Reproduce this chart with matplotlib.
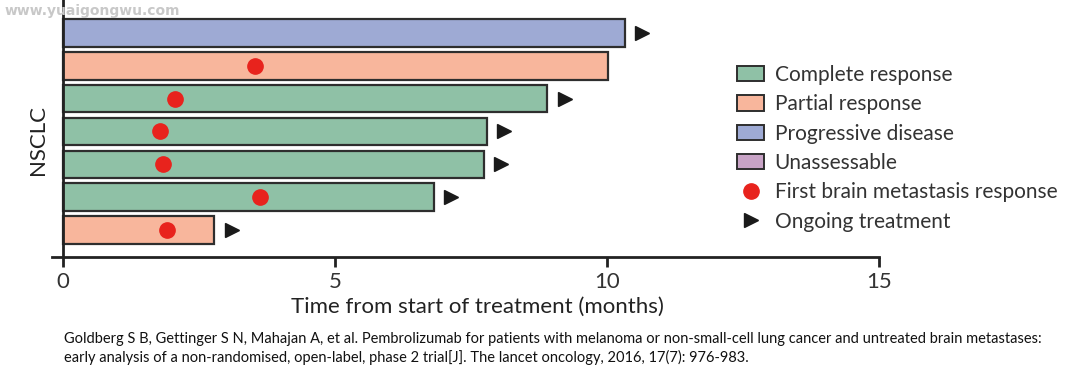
import matplotlib
matplotlib.use("Agg")
import matplotlib.pyplot as plt
from matplotlib.patches import Patch
from matplotlib.lines import Line2D

# ---- data (top to bottom) ----
responses = ["Progressive disease", "Partial response", "Complete response",
             "Complete response", "Complete response", "Complete response",
             "Partial response"]
durations = [10.33, 10.02, 8.90, 7.79, 7.74, 6.82, 2.78]
first_response = [None, 3.53, 2.06, 1.78, 1.84, 3.62, 1.91]
ongoing = [True, False, True, True, True, True, True]
xticks = [0, 5, 10, 15]

colors = {"Complete response": "#8fc1a6",
          "Partial response": "#f8b69c",
          "Progressive disease": "#9eaad4",
          "Unassessable": "#c8a3c6"}
edge = "#2e2e2e"
red = "#e8231d"

font = ["Lato", "DejaVu Sans"]
plt.rcParams["font.family"] = font

fig = plt.figure(figsize=(10.8, 3.76), dpi=100)
ax = fig.add_axes([52/1080, 1-257/376, (879-52)/1080, 257/376])

n = len(durations)
ys = list(range(n - 1, -1, -1))
for y, d, r, fr, og in zip(ys, durations, responses, first_response, ongoing):
    ax.barh(y, d, height=0.84, color=colors[r], edgecolor=edge, linewidth=1.6, zorder=2)
    if fr is not None:
        ax.plot(fr, y, "o", color=red, markersize=11, zorder=3)
    if og:
        ax.plot(d + 0.32, y, ">", color="#1a1a1a", markersize=10, zorder=3)

ax.set_xlim(-0.2, 15)
ax.set_ylim(-0.82, n - 0.0)
ax.spines["left"].set_position(("data", 0))
ax.spines["top"].set_visible(False)
ax.spines["right"].set_visible(False)
for s in ["left", "bottom"]:
    ax.spines[s].set_linewidth(2)
    ax.spines[s].set_color("#222222")
ax.set_xticks(xticks)
ax.set_xticklabels([str(t) for t in xticks], fontsize=16, color="#333333")
ax.tick_params(axis="x", length=7, width=2, color="#222222", pad=4)
ax.set_yticks([])
ax.set_xlabel("Time from start of treatment (months)", fontsize=16, color="#222222")
ax.xaxis.set_label_coords(0.514, -0.155)
fig.text(38/1080, 1-140/376, "NSCLC", rotation=90, fontsize=16, color="#222222",
         ha="center", va="center")

handles = [Patch(facecolor=colors[k], edgecolor=edge, linewidth=1.4, label=k)
           for k in ["Complete response", "Partial response", "Progressive disease", "Unassessable"]]
handles.append(Line2D([], [], marker="o", color=red, linestyle="none", markersize=11,
                      label="First brain metastasis response"))
handles.append(Line2D([], [], marker=">", color="#1a1a1a", linestyle="none", markersize=10,
                      label="Ongoing treatment"))
fig.legend(handles=handles, loc="upper left", bbox_to_anchor=(737/1080, 1-65/376),
           frameon=False, fontsize=15, handlelength=1.3, handleheight=0.75,
           labelspacing=0.45, handletextpad=0.5, borderaxespad=0, borderpad=0,
           labelcolor="#333333")

fig.text(5/1080, 1-11/376, "www.yuaigongwu.com", fontsize=10, fontweight="bold",
         color="#c8c8c8", ha="left", va="center", family=["DejaVu Sans"])

cap = ("Goldberg S B, Gettinger S N, Mahajan A, et al. Pembrolizumab for patients with melanoma or "
       "non-small-cell lung cancer and untreated brain metastases:\n"
       "early analysis of a non-randomised, open-label, phase 2 trial[J]. The lancet oncology, "
       "2016, 17(7): 976-983.")
fig.text(64/1080, 1-332/376, cap, fontsize=10.5, color="#111111", ha="left", va="top",
         linespacing=1.35, family=["Lato", "DejaVu Sans"])

fig.savefig("out.png", dpi=100)
